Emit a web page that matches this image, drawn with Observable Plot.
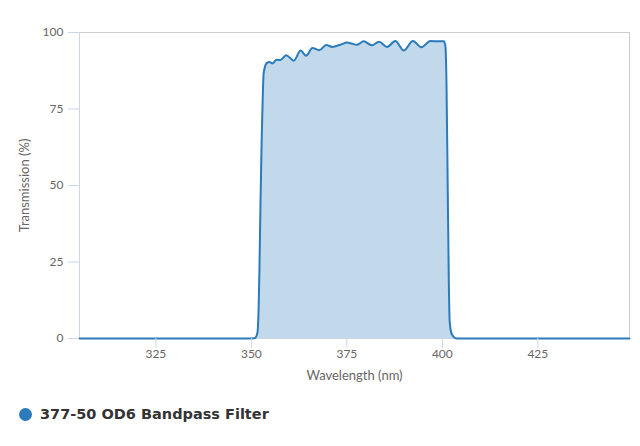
<!DOCTYPE html>
<html>
<head>
<meta charset="utf-8">
<script src="https://cdn.jsdelivr.net/npm/d3@7"></script>
<script src="https://cdn.jsdelivr.net/npm/@observablehq/plot@0.6"></script>
<style>
  html, body { margin: 0; padding: 0; background: #fff; }
  #wrap { position: relative; width: 640px; height: 446px; }
  #legend { position: absolute; left: 19px; top: 406px; display: flex; align-items: center;
    font-family: "DejaVu Sans", sans-serif; font-weight: bold; font-size: 14.5px; color: #333; }
  #legend .dot { width: 13px; height: 13px; border-radius: 50%; background: #2b7bba; margin-right: 8px; }
</style>
</head>
<body>
<div id="wrap"><div id="chart"></div><div id="legend"><span class="dot"></span><span id="ltext"></span></div></div>
<script>
const seriesName = "377-50 OD6 Bandpass Filter";
const xLabel = "Wavelength (nm)";
const yLabel = "Transmission (%)";
const xTicks = [325, 350, 375, 400, 425];
const yTicks = [0, 25, 50, 75, 100];
const wavelength = [305, 330, 350, 350.7, 351.1, 351.6, 351.9, 352.1, 352.4, 352.7, 353.0, 353.2, 353.5,
  354.0, 354.8, 355.5, 356.6, 357.6, 359.1, 361.1, 362.9, 364.3, 366.0, 367.8, 369.6, 371.2, 373.3, 375.1,
  375.9, 377.7, 379.4, 381.6, 383.4, 385.5, 387.7, 389.9, 392.3, 394.5, 396.9, 398.6, 400.4,
  400.8, 401.1, 401.4, 401.7, 401.9, 402.3, 402.9, 403.5, 404.0, 420, 449];
const transmission = [0, 0, 0, 0.05, 0.3, 2, 10, 22, 45, 65, 80, 86.5, 88.5,
  90.0, 90.4, 89.9, 91.1, 91.0, 92.6, 90.8, 94.1, 92.4, 94.9, 94.2, 95.9, 95.3, 96.0, 96.7,
  96.5, 96.0, 97.1, 95.8, 97.0, 95.3, 97.2, 94.1, 97.2, 95.2, 97.2, 97.1, 97.1,
  95.5, 82, 50, 18, 6, 2, 0.6, 0.1, 0, 0, 0];

const data = wavelength.map((w, i) => ({w, t: transmission[i]}));
const lineColor = "#2b7bba";
const font = "Lato, 'Open Sans', sans-serif";

const chart = Plot.plot({
  width: 640,
  height: 390,
  marginLeft: 79,
  marginRight: 11,
  marginTop: 32,
  marginBottom: 52,
  style: {fontFamily: font, fontSize: "12px", background: "white"},
  x: {domain: [305, 449], label: null},
  y: {domain: [0, 100], label: null},
  marks: [
    Plot.frame({stroke: "#cccccc", strokeWidth: 1}),
    Plot.areaY(data, {x: "w", y: "t", fill: lineColor, fillOpacity: 0.29, curve: "monotone-x"}),
    Plot.ruleX([305], {stroke: "#ccd6eb"}),
    Plot.ruleY([0], {stroke: "#ccd6eb"}),
    Plot.line(data, {x: "w", y: "t", stroke: lineColor, strokeWidth: 2, curve: "monotone-x"}),
    Plot.axisX(xTicks, {tickSize: 10, tickPadding: 1, stroke: "#ccd6eb", fill: "#666", fontSize: 12, label: null}),
    Plot.axisY(yTicks, {tickSize: 11, tickPadding: 5, stroke: "#ccd6eb", fill: "#666", fontSize: 12, label: null}),
    Plot.text([xLabel], {frameAnchor: "bottom", dy: 41, fill: "#666", fontSize: 13, textAnchor: "middle"}),
    Plot.text([yLabel], {frameAnchor: "left", dx: -55, rotate: -90, fill: "#666", fontSize: 13, textAnchor: "middle"})
  ]
});
document.getElementById("chart").appendChild(chart);
document.getElementById("ltext").textContent = seriesName;
</script>
</body>
</html>
